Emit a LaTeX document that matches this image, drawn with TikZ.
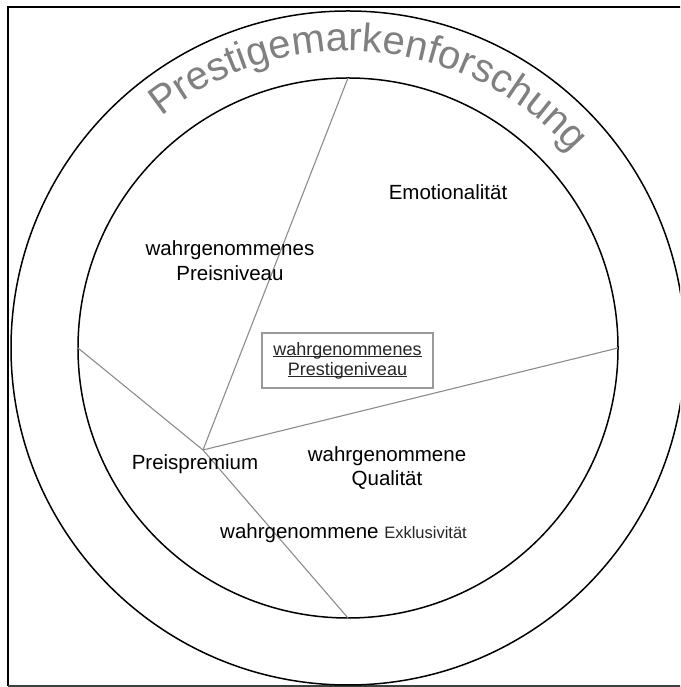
\documentclass[tikz,border=0pt]{standalone}
\usepackage{fontspec}
\setmainfont{Liberation Sans}
\usetikzlibrary{decorations.text}
% underline sitting just under the baseline
\newcommand\ulbase[1]{\setbox0=\hbox{#1}\rlap{\rule[-2.2pt]{\wd0}{0.9pt}}\box0}
\begin{document}
\begin{tikzpicture}[x=1pt,y=1pt,
  ring/.style={draw=black, line width=1.5pt, circle, inner sep=0pt, outer sep=0pt},
  spoke/.style={draw=black!45, line width=1.1pt},
  txt/.style={font=\fontsize{20.5}{24.5}\selectfont, align=center, inner sep=0pt},
]
\useasboundingbox (0,0) rectangle (680,687);
\clip (0,0) rectangle (680,687);
\fill[white] (0,0) rectangle (680,687);

% frame (open to the right)
\draw[line width=2.2pt] (8,1) -- (8,680) -- (700,680);
\draw[line width=1.4pt, black!75] (8,1) -- (700,1);

% rings
\coordinate (c) at (348,339);
\node[ring, minimum size=674pt] (outer) at (c) {};
\node[ring, minimum size=540pt] (inner) at (c) {};

% title along the outer ring
\path[decorate, decoration={text along path, text align=center,
  text={|\fontsize{40}{40}\selectfont\color{black!50}|Prestigemarkenforschung}}]
  (c) ++(170:297) arc[start angle=170, end angle=0, radius=297];

% spokes from the hub to the inner ring
\coordinate (hub) at (203,237);
\draw[spoke] (hub) -- (inner.north);
\draw[spoke] (hub) -- (inner.east);
\draw[spoke] (hub) -- (inner.south);
\draw[spoke] (hub) -- (inner.west);

% sector labels
\node[txt] (emo) at (448,495) {Emotionalität};
\node[txt] (preisniveau) at (230,426.5) {wahrgenommenes\\Preisniveau};
\node[txt] (premium) at (195,223) {Preispremium};
\node[txt] (qual) at (387,219) {wahrgenommene\\Qualität};
\node[txt, anchor=base west] (exkl) at (220,148)
  {wahrgenommene {\fontsize{16.5}{20}\selectfont\color{black!85}Exklusivität}};

% core box
\node[draw=black!40, line width=1.1pt, minimum width=171pt, minimum height=55pt,
  align=center, text=black!85, font=\fontsize{18}{20}\selectfont] (prestige)
  at (347.5,326.5) {\ulbase{wahrgenommenes}\\\ulbase{Prestigeniveau}};
\end{tikzpicture}
\end{document}
